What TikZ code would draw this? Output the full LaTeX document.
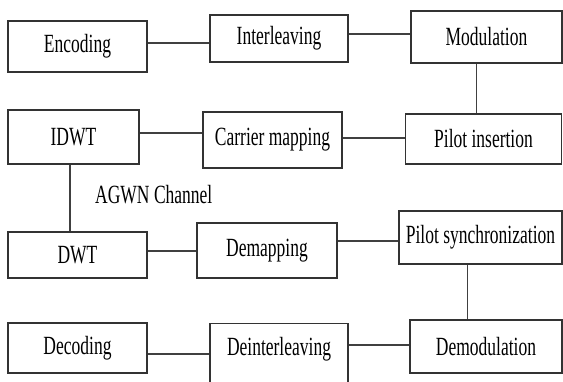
\documentclass[tikz,border=0pt]{standalone}
\usepackage{fontspec}
\usepackage{graphicx}
\setmainfont{Liberation Serif}
\newcommand\stx[1]{\scalebox{1}[1.5]{#1}}
\tikzset{
  blk/.style={draw=black!80, line width=1.1pt, inner sep=0pt, rectangle,
    font=\fontsize{17.5}{20}\selectfont},
  conn/.style={draw=black!75, line width=1.2pt},
  lbl/.style={inner sep=0pt, font=\fontsize{17.5}{20}\selectfont}
}
\begin{document}
\begin{tikzpicture}[x=1pt,y=1pt]
\useasboundingbox (0,0) rectangle (563,381);
\clip (0,0) rectangle (563,381);
\fill[white] (0,0) rectangle (563,381);
% row 1
\node[blk, minimum width=139pt, minimum height=51pt] (enc) at (77.5,334.5) {\stx{Encoding}};
\node[blk, minimum width=138pt, minimum height=47pt] (inter) at (279,342.5) {\stx{Interleaving}};
\node[blk, minimum width=151pt, minimum height=52pt] (mod) at (486.5,344) {\stx{Modulation}};
% row 2
\node[blk, minimum width=131pt, minimum height=54pt] (idwt) at (73.5,244) {\stx{IDWT}};
\node[blk, minimum width=139pt, minimum height=56pt] (carr) at (272.5,241) {\stx{Carrier mapping}};
\node[blk, minimum width=156pt, minimum height=50pt] (pins) at (483.5,242) {\stx{Pilot insertion}};
% channel label
\node[lbl, anchor=west] (agwn) at (95,186) {\stx{AGWN Channel}};
% row 3
\node[blk, minimum width=139pt, minimum height=46pt] (dwt) at (77.5,126) {\stx{DWT}};
\node[blk, minimum width=140pt, minimum height=55pt] (demap) at (267,130.5) {\stx{Demapping}};
\node[blk, minimum width=163pt, minimum height=53pt] (psync) at (480.5,143.5) {\stx{Pilot synchronization}};
% row 4
\node[blk, minimum width=139pt, minimum height=50pt] (dec) at (77.5,33) {\stx{Decoding}};
\node[blk, minimum width=138pt, text width=138pt, align=center, text height=32pt, text depth=45pt, anchor=north] (deint) at (279,58) {\stx{Deinterleaving}};
\node[blk, minimum width=152pt, minimum height=53pt] (demod) at (486,34.5) {\stx{Demodulation}};
% connectors
\draw[conn] ([yshift=3.5pt]enc.east) -- ([yshift=3.5pt]enc.east -| inter.west);
\draw[conn] ([yshift=4.5pt]inter.east) -- ([yshift=4.5pt]inter.east -| mod.west);
\draw[conn] ([xshift=-10pt]mod.south) -- ([xshift=-10pt]mod.south |- pins.north);
\draw[conn] ([yshift=4pt]idwt.east) -- ([yshift=4pt]idwt.east -| carr.west);
\draw[conn] ([yshift=2pt]carr.east) -- ([yshift=2pt]carr.east -| pins.west);
\draw[conn] ([xshift=-3.5pt]idwt.south) -- ([xshift=-3.5pt]idwt.south |- dwt.north);
\draw[conn] ([yshift=4pt]dwt.east) -- ([yshift=4pt]dwt.east -| demap.west);
\draw[conn] ([yshift=9.5pt]demap.east) -- ([yshift=9.5pt]demap.east -| psync.west);
\draw[conn] ([xshift=-13pt]psync.south) -- ([xshift=-13pt]psync.south |- demod.north);
\draw[conn] ([yshift=-6pt]dec.east) -- ([yshift=-6pt]dec.east -| deint.west);
\draw[conn] ([yshift=1.5pt]demod.west) -- ([yshift=1.5pt]demod.west -| deint.east);
\end{tikzpicture}
\end{document}
